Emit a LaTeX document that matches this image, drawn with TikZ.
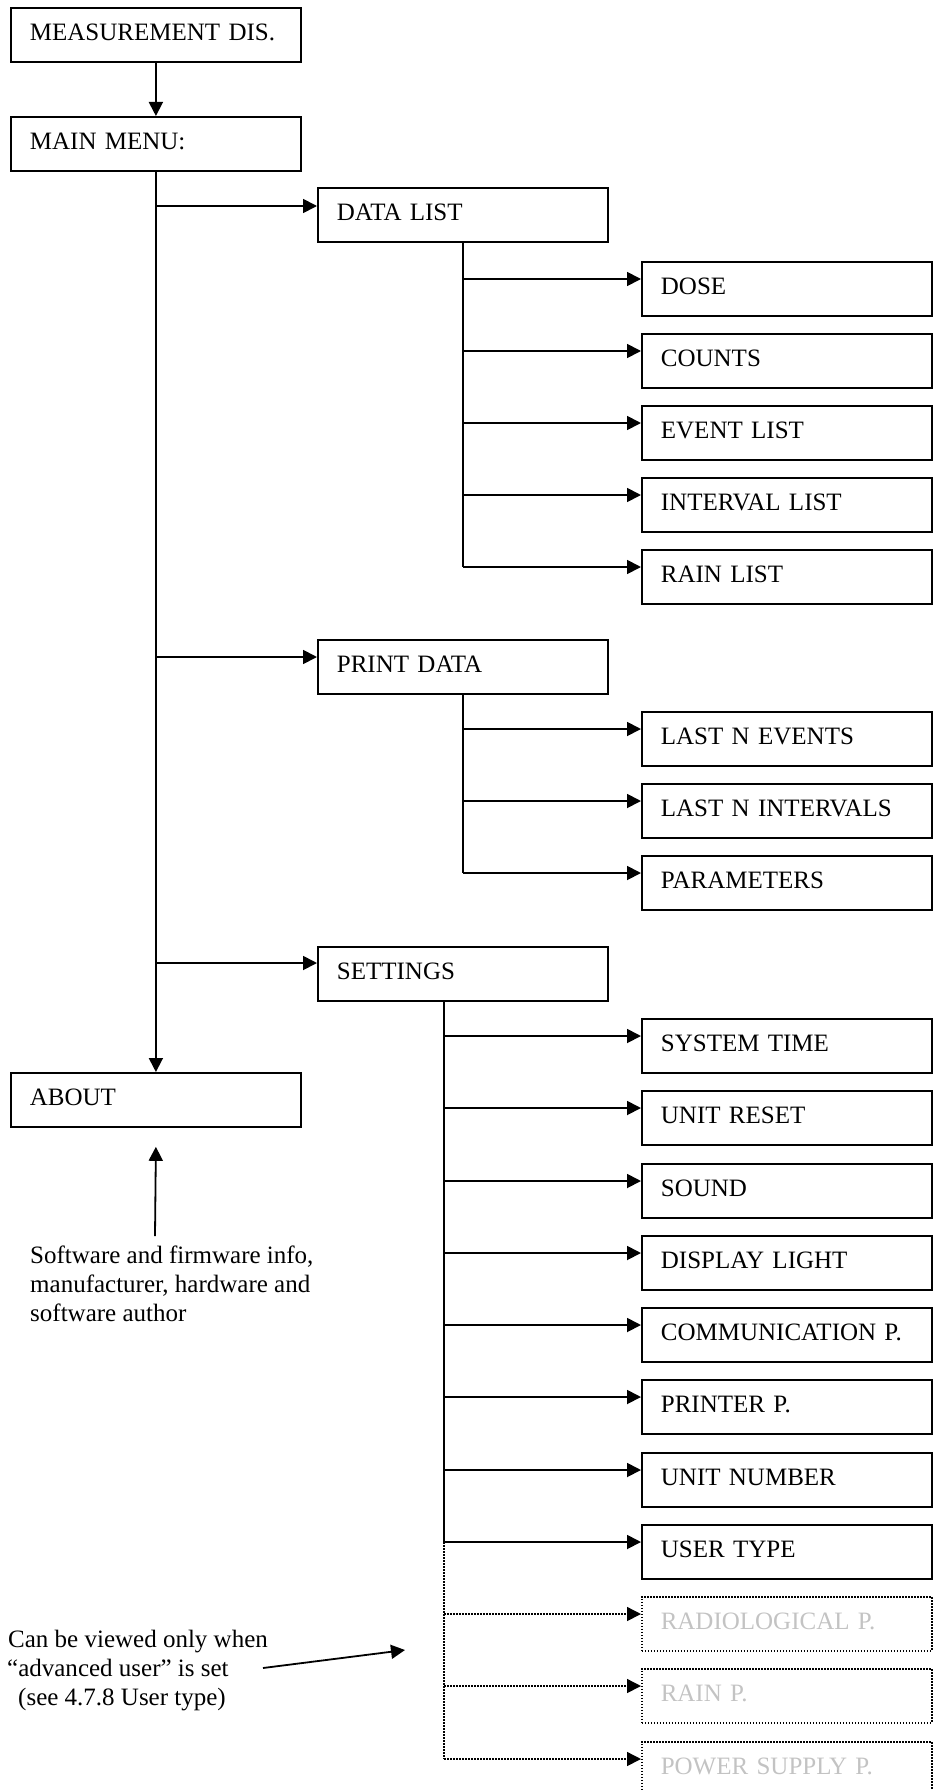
\documentclass[tikz,border=0pt]{standalone}
\usepackage{fontspec}
\setmainfont{Liberation Serif}
\usetikzlibrary{arrows.meta,calc}
\definecolor{ghost}{RGB}{195,195,195}
\begin{document}
\begin{tikzpicture}[x=1pt,y=-1pt,
  font=\fontsize{25}{29}\selectfont,
  box/.style={draw, line width=1.8pt, anchor=north west, minimum height=54pt,
    text width=252pt, inner xsep=19pt, inner ysep=0pt, align=left,
    text height=17pt, text depth=5pt},
  ghostbox/.style={box, text=ghost, line width=1.5pt, dash pattern=on 1.5pt off 1.5pt},
  conn/.style={line width=1.8pt},
  arr/.style={conn, -{Triangle[length=14pt,width=14pt]}},
  dotline/.style={line width=1.5pt, dash pattern=on 1.5pt off 1.5pt},
  dotarr/.style={dotline, -{Triangle[length=14pt,width=14pt]}},
  note/.style={anchor=base west, inner sep=0pt}
]
\useasboundingbox (0,0) rectangle (936,1790);

% top level
\node[box] (mdis) at (10,7) {MEASUREMENT DIS.};
\node[box] (main) at (10,116) {MAIN MENU:};
\node[box] (dl) at (317,187) {DATA LIST};
\node[box] (pd) at (317,639) {PRINT DATA};
\node[box] (set) at (317,946) {SETTINGS};
\node[box] (about) at (10,1072) {ABOUT};

\draw[arr] (mdis.south) -- (main.north);
\draw[arr] (main.south) -- (about.north);
\coordinate (dl-in) at ([yshift=-19pt]dl.north west);
\coordinate (pd-in) at ([yshift=-18pt]pd.north west);
\coordinate (set-in) at ([yshift=-17pt]set.north west);
\foreach \n in {dl,pd,set} \draw[arr] (main.south |- \n-in) -- (\n-in);

% data list children
\foreach \name/\txt/\y in {dose/DOSE/261, counts/COUNTS/333, evlist/EVENT LIST/405, intlist/INTERVAL LIST/477, rainlist/RAIN LIST/549} {
  \node[box] (\name) at (641,\y) {\txt};
  \coordinate (\name-in) at ([yshift=-18pt]\name.north west);
  \draw[arr] (dl.south |- \name-in) -- (\name-in);
}
\draw[conn] (dl.south) -- (dl.south |- rainlist-in);

% print data children
\foreach \name/\txt/\y in {lastev/LAST N EVENTS/711, lastint/LAST N INTERVALS/783, params/PARAMETERS/855} {
  \node[box] (\name) at (641,\y) {\txt};
  \coordinate (\name-in) at ([yshift=-18pt]\name.north west);
  \draw[arr] (pd.south |- \name-in) -- (\name-in);
}
\draw[conn] (pd.south) -- (pd.south |- params-in);

% settings children
\coordinate (sv) at ([xshift=127pt]set.south west);
\foreach \name/\txt/\y in {systime/SYSTEM TIME/1018, ureset/UNIT RESET/1090, sound/SOUND/1163, dlight/DISPLAY LIGHT/1235, comm/COMMUNICATION P./1307, printer/PRINTER P./1379, unum/UNIT NUMBER/1452, utype/USER TYPE/1524} {
  \node[box] (\name) at (641,\y) {\txt};
  \coordinate (\name-in) at ([yshift=-18pt]\name.north west);
  \draw[arr] (sv |- \name-in) -- (\name-in);
}
\draw[conn] (sv) -- (sv |- utype-in);
\foreach \name/\txt/\y in {radio/RADIOLOGICAL P./1596, rainp/RAIN P./1668, power/POWER SUPPLY P./1741} {
  \node[ghostbox] (\name) at (641,\y) {\txt};
  \coordinate (\name-in) at ([yshift=-18pt]\name.north west);
  \draw[dotarr] (sv |- \name-in) -- (\name-in);
}
\draw[dotline] (sv |- utype-in) -- (sv |- power-in);

% about note
\node[note] (sw1) at (30,1263) {Software and firmware info,};
\node[note] (sw2) at (30,1292) {manufacturer, hardware and};
\node[note] (sw3) at (30,1321) {software author};
\coordinate (swtail) at (155,1236);
\draw[arr] (swtail) -- ([yshift=-19pt]about.south);

% advanced user note
\node[note] (ad1) at (8,1647) {Can be viewed only when};
\node[note] (ad2) at (7,1676) {“advanced user” is set};
\node[note] (ad3) at (18,1705) {(see 4.7.8 User type)};
\coordinate (adtail) at (263,1668);
\coordinate (adtip) at (405,1650);
\draw[arr] (adtail) -- (adtip);
\end{tikzpicture}
\end{document}
